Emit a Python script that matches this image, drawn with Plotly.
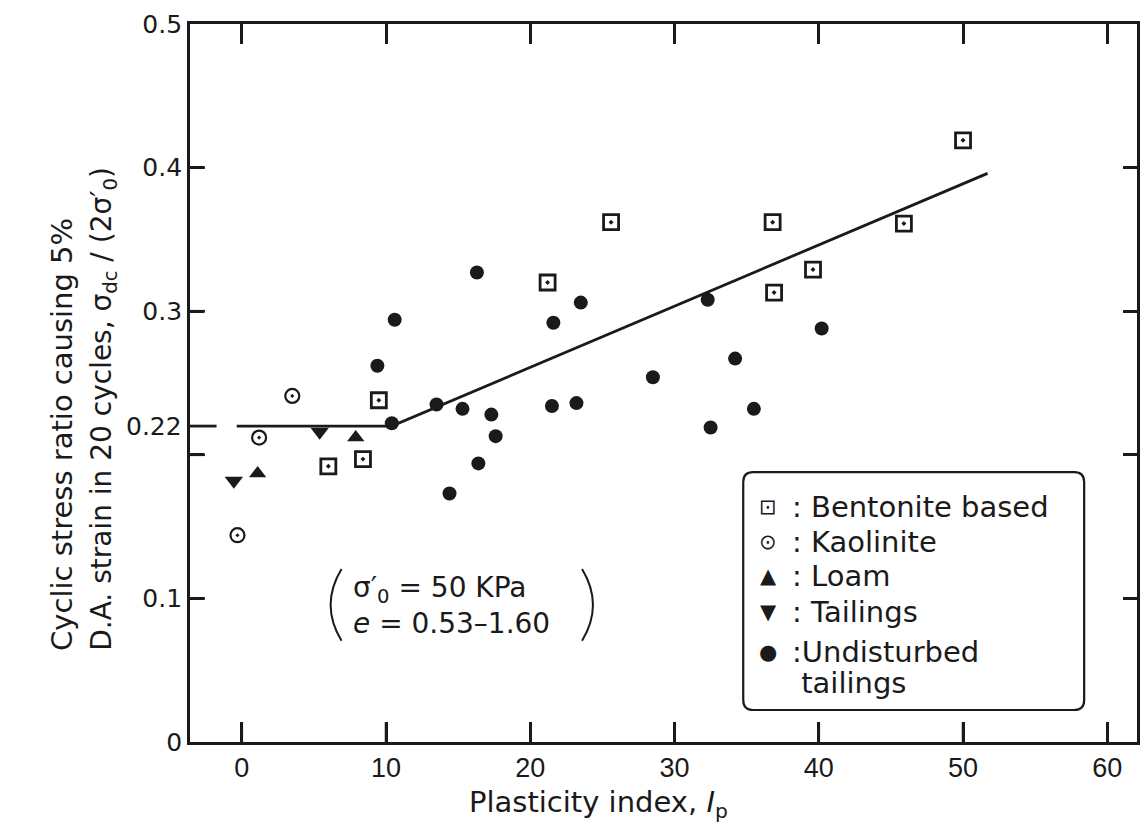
import plotly.graph_objects as go

# Plasticity index (Ip) and cyclic stress ratio for each soil group
bentonite_ip = [6.0, 8.4, 9.5, 21.2, 25.6, 36.8, 36.9, 39.6, 45.9, 50.0]
bentonite_csr = [0.192, 0.197, 0.238, 0.320, 0.362, 0.362, 0.313, 0.329, 0.361, 0.419]

kaolinite_ip = [-0.3, 1.2, 3.5]
kaolinite_csr = [0.144, 0.212, 0.241]

loam_ip = [1.1, 7.9]
loam_csr = [0.187, 0.212]

tailings_ip = [-0.55, 5.4]
tailings_csr = [0.182, 0.216]

undisturbed_ip = [16.3, 23.5, 21.6, 32.3, 40.2, 34.2, 28.5, 13.5, 15.3, 17.3,
                  17.6, 21.5, 23.2, 35.5, 32.5, 16.4, 14.4, 10.6, 9.4, 10.4]
undisturbed_csr = [0.327, 0.306, 0.292, 0.308, 0.288, 0.267, 0.254, 0.235, 0.232, 0.228,
                   0.213, 0.234, 0.236, 0.232, 0.219, 0.194, 0.173, 0.294, 0.262, 0.222]

# Bilinear trend: constant 0.22 up to Ip ~ 10, then rising
trend_level = 0.22
trend_ip = [-0.35, 10.4, 51.7]
trend_csr = [trend_level, trend_level, 0.396]

x_ticks = [0, 10, 20, 30, 40, 50, 60]
y_ticks = [0, 0.1, 0.2, 0.3, 0.4, 0.5]
y_ticktext = ["0", "0.1", "", "0.3", "0.4", "0.5"]

# key entries: symbol glyph and label lines
key_symbols = ["⊡", "⊙", "▲", "▼", "●"]
key_labels = [[": Bentonite based"], [": Kaolinite"], [": Loam"], [": Tailings"],
              [":Undisturbed", "\u00a0tailings"]]

INK = "#1a1a1a"
X_RANGE = [-3.59, 62.06]
Y_RANGE = [0, 0.5]
PLOT_W, PLOT_H = 950, 718          # plot area size in px
X_TICKLEN, Y_TICKLEN = 20, 15

WIDE = "DejaVu Sans, Verdana, sans-serif"
PLAIN = "Liberation Sans, Arial, sans-serif"

fig = go.Figure()

fig.add_trace(go.Scatter(
    x=trend_ip, y=trend_csr, mode="lines",
    line=dict(color=INK, width=2.8), showlegend=False, hoverinfo="skip"))

fig.add_trace(go.Scatter(
    x=bentonite_ip, y=bentonite_csr, mode="markers", name="Bentonite based",
    marker=dict(symbol="square-open-dot", size=15, color=INK, line=dict(width=2.8, color=INK))))
fig.add_trace(go.Scatter(
    x=kaolinite_ip, y=kaolinite_csr, mode="markers", name="Kaolinite",
    marker=dict(symbol="circle-open-dot", size=14, color=INK, line=dict(width=2.2, color=INK))))
fig.add_trace(go.Scatter(
    x=loam_ip, y=loam_csr, mode="markers", name="Loam",
    marker=dict(symbol="triangle-up", size=15, color=INK)))
fig.add_trace(go.Scatter(
    x=tailings_ip, y=tailings_csr, mode="markers", name="Tailings",
    marker=dict(symbol="triangle-down", size=16, color=INK)))
fig.add_trace(go.Scatter(
    x=undisturbed_ip, y=undisturbed_csr, mode="markers", name="Undisturbed tailings",
    marker=dict(symbol="circle", size=14, color=INK)))

# key frame with rounded corners (paper coordinates)
x0, x1, yt, yb = 0.5842, 0.9442, 0.3760, 0.0446
rx, ry = 0.0105, 0.0139
frame = (f"M {x0+rx},{yt} L {x1-rx},{yt} Q {x1},{yt} {x1},{yt-ry} "
         f"L {x1},{yb+ry} Q {x1},{yb} {x1-rx},{yb} L {x0+rx},{yb} "
         f"Q {x0},{yb} {x0},{yb+ry} L {x0},{yt-ry} Q {x0},{yt} {x0+rx},{yt} Z")

shapes = [
    dict(type="path", path=frame, xref="paper", yref="paper",
         line=dict(color=INK, width=2.2), fillcolor="rgba(0,0,0,0)", layer="below"),
    # longer tick marking the trend's plateau level
    dict(type="line", xref="x", yref="y", x0=X_RANGE[0], x1=-1.75,
         y0=trend_level, y1=trend_level, line=dict(color=INK, width=2.8)),
    # parentheses around the test conditions
    dict(type="path", xref="paper", yref="paper",
         path="M 0.1600,0.2410 Q 0.1370,0.1910 0.1600,0.1410",
         line=dict(color=INK, width=2)),
    dict(type="path", xref="paper", yref="paper",
         path="M 0.4140,0.2410 Q 0.4370,0.1910 0.4140,0.1410",
         line=dict(color=INK, width=2)),
]

# inward tick marks on the bottom and left axes, placed at the axis tick values
for v in x_ticks:
    shapes.append(dict(type="line", xref="x", yref="paper", x0=v, x1=v, layer="above",
                       y0=0, y1=X_TICKLEN / PLOT_H, line=dict(color=INK, width=2.6)))
for v in y_ticks[1:-1]:
    shapes.append(dict(type="line", xref="paper", yref="y", x0=0, x1=Y_TICKLEN / PLOT_W,
                       layer="above", y0=v, y1=v, line=dict(color=INK, width=2.6)))

annotations = [
    dict(text=f"{trend_level:g}", xref="paper", yref="y", x=0, y=trend_level,
         xanchor="right", yanchor="middle", xshift=-6, showarrow=False,
         font=dict(family=WIDE, size=25, color=INK)),
    dict(text="σ′<sub>0</sub> = 50 KPa<br><i>e</i> = 0.53–1.60",
         xref="paper", yref="paper", x=0.1705, y=0.1908,
         xanchor="left", yanchor="middle", align="left", showarrow=False,
         font=dict(family=WIDE, size=28, color=INK)),
    dict(text="Cyclic stress ratio causing 5%",
         xref="paper", yref="paper", x=-0.1347, y=0.124,
         xanchor="center", yanchor="bottom", textangle=-90, showarrow=False,
         font=dict(family=WIDE, size=29, color=INK)),
    dict(text="D.A. strain in 20 cycles, σ<sub>dc</sub> / (2σ′<sub>0</sub>)",
         xref="paper", yref="paper", x=-0.091, y=0.124,
         xanchor="center", yanchor="bottom", textangle=-90, showarrow=False,
         font=dict(family=WIDE, size=28, color=INK)),
    dict(text="Plasticity index, <i>I</i><sub>p</sub>",
         xref="paper", yref="paper", x=0.4316, y=-0.0864,
         xanchor="center", yanchor="middle", showarrow=False,
         font=dict(family=WIDE, size=29, color=INK)),
]

# key rows (pixel rows converted to paper units)
row_px = [507, 542, 576, 612, 652]
for sym, lines, py in zip(key_symbols, key_labels, row_px):
    annotations.append(dict(text=sym, xref="paper", yref="paper",
                            x=(770 - 190) / PLOT_W, y=(742 - py) / PLOT_H,
                            xanchor="center", yanchor="middle", showarrow=False,
                            font=dict(family=WIDE, size=21, color=INK)))
    for i, line in enumerate(lines):
        annotations.append(dict(text=line, xref="paper", yref="paper",
                                x=(792 - 190) / PLOT_W, y=(742 - py - 31 * i) / PLOT_H,
                                xanchor="left", yanchor="middle", showarrow=False,
                                font=dict(family=WIDE, size=29, color=INK)))

fig.update_layout(
    width=1146, height=834,
    margin=dict(l=190, r=6, t=24, b=92),
    paper_bgcolor="white", plot_bgcolor="white",
    shapes=shapes, annotations=annotations, showlegend=False,
    xaxis=dict(range=X_RANGE, tickvals=x_ticks, ticks="inside", ticklen=X_TICKLEN,
               tickwidth=2.6, tickcolor=INK, showline=True, linecolor=INK, linewidth=2.8,
               mirror="ticks", showgrid=False, zeroline=False,
               tickfont=dict(family=PLAIN, size=27, color=INK)),
    yaxis=dict(range=Y_RANGE, tickvals=y_ticks, ticktext=y_ticktext, ticks="inside",
               ticklen=14, tickwidth=2.6, tickcolor=INK, showline=True, linecolor=INK,
               linewidth=2.8, mirror="ticks", showgrid=False, zeroline=False,
               tickfont=dict(family=WIDE, size=25, color=INK)),
)

fig.write_html("out.html")
